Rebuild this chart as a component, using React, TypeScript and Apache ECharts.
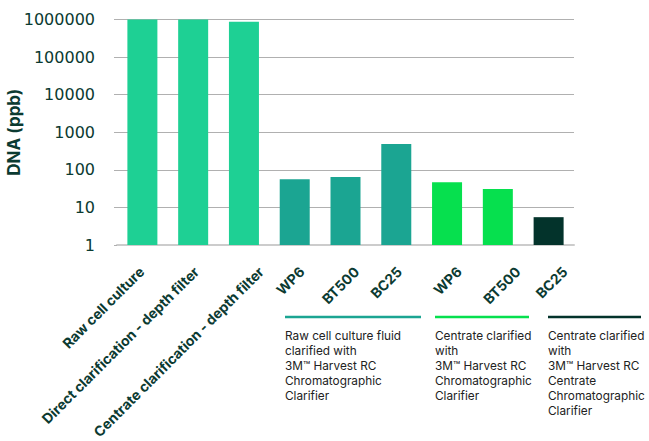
import React, { useEffect, useRef } from "react";
import * as echarts from "echarts";

const categories = [
  "Raw cell culture",
  "Direct clarification - depth filter",
  "Centrate clarification - depth filter",
  "WP6",
  "BT500",
  "BC25",
  "WP6",
  "BT500",
  "BC25",
];
const dnaValues = [1000000, 1000000, 870000, 56, 64, 485, 47, 31, 5.5];
const barColors = [
  "#1ed094",
  "#1ed094",
  "#1ed094",
  "#1ba592",
  "#1ba592",
  "#1ba592",
  "#06e04e",
  "#06e04e",
  "#03332b",
];
const yTicks = [1, 10, 100, 1000, 10000, 100000, 1000000];
const groupNotes = [
  ["Raw cell culture fluid", "clarified with", "3M™ Harvest RC", "Chromatographic", "Clarifier"],
  ["Centrate clarified", "with", "3M™ Harvest RC", "Chromatographic", "Clarifier"],
  ["Centrate clarified", "with", "3M™ Harvest RC", "Centrate", "Chromatographic", "Clarifier"],
];

// styling (not data)
const groupColors = ["#1ba592", "#06e04e", "#03332b"];
const groupSpans = [
  [285, 421],
  [435, 529],
  [548, 641],
];
const labelShift = [-1, 3, 17, 7, 11, 3, 12, 20, 16]; // horizontal nudge of each rotated label
const SHIFT_BASE = 21;

const TEXT = "#0b3a31";
const FONT = "Inter, Roboto, sans-serif";

export default function App() {
  const ref = useRef<HTMLDivElement>(null);
  useEffect(() => {
    if (!ref.current) return;
    const chart = echarts.init(ref.current, undefined, { renderer: "svg" });
    const graphics: any[] = [];
    groupNotes.forEach((lines, i) => {
      const [x1, x2] = groupSpans[i];
      graphics.push({
        type: "line",
        shape: { x1, y1: 317, x2, y2: 317 },
        style: { stroke: groupColors[i], lineWidth: 2.5 },
      });
      graphics.push({
        type: "text",
        x: x1,
        y: 328,
        style: {
          text: lines.join("\n"),
          fill: "#222222",
          font: `11.8px ${FONT}`,
          lineHeight: 15,
          verticalAlign: "top",
          align: "left",
        },
      });
    });
    const r2 = Math.SQRT2;
    const rich: Record<string, any> = {};
    labelShift.forEach((s, i) => {
      const pr = Math.max(0, (SHIFT_BASE - s) / r2);
      const pt = r2 * (s + SHIFT_BASE);
      rich["l" + i] = {
        color: TEXT,
        fontFamily: FONT,
        fontWeight: "bold",
        fontSize: 14,
        lineHeight: 17,
        padding: [pt, pr, 0, 0],
      };
    });
    chart.setOption({
      animation: false,
      grid: {
        left: 117,
        right: 75,
        top: 19.5,
        bottom: 196,
        containLabel: false,
        outerBoundsMode: "none",
      },
      xAxis: {
        type: "category",
        data: categories,
        axisLine: { show: true, lineStyle: { color: "#cccccc", width: 2 } },
        axisTick: { show: false },
        axisLabel: {
          interval: 0,
          rotate: 45,
          margin: 24 - SHIFT_BASE,
          color: TEXT,
          fontFamily: FONT,
          fontWeight: "bold",
          fontSize: 14,
          formatter: (v: string, idx: number) => `{l${idx}|${v}}`,
          rich,
        },
      },
      yAxis: {
        type: "log",
        logBase: 10,
        min: 1,
        max: 1000000,
        name: "DNA (ppb)",
        nameLocation: "middle",
        nameGap: 95,
        nameMoveOverlap: false,
        nameTextStyle: { color: TEXT, fontFamily: FONT, fontWeight: "bold", fontSize: 17 },
        axisLine: { show: false },
        axisTick: { show: true, length: 3, lineStyle: { color: "#b0b0b0" } },
        splitLine: { show: true, lineStyle: { color: "#b0b0b0", width: 1 } },
        axisLabel: {
          margin: 22,
          color: TEXT,
          fontFamily: "'DejaVu Sans', sans-serif",
          fontSize: 16,
          formatter: (v: number) => (yTicks.includes(Math.round(v)) ? String(Math.round(v)) : ""),
        },
      },
      series: [
        {
          type: "bar",
          barWidth: 30,
          data: dnaValues.map((v, i) => ({ value: v, itemStyle: { color: barColors[i] } })),
        },
      ],
      graphic: graphics,
    });
    return () => chart.dispose();
  }, []);
  return (
    <div
      ref={ref}
      style={{ position: "fixed", left: 0, top: 0, width: 649, height: 441, background: "#fff" }}
    />
  );
}
